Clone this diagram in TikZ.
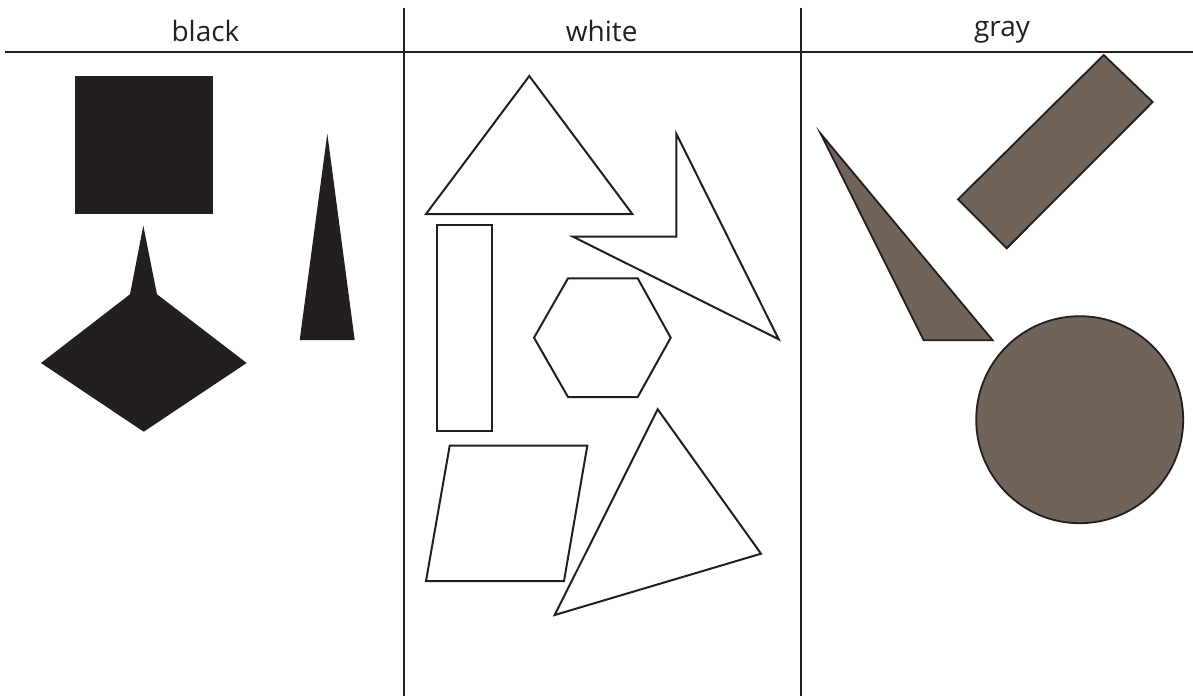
\documentclass[tikz,border=0pt]{standalone}
\usepackage{fontspec}
\setmainfont{Open Sans}
\usepackage{tikz}
\usetikzlibrary{positioning}
\usepackage{xcolor}
\definecolor{inkblack}{RGB}{35,31,32}
\definecolor{shapegray}{RGB}{111,99,90}

\begin{document}
\begin{tikzpicture}[x=1pt,y=-1pt,
  rule/.style={draw=inkblack,line width=2pt},
  blk/.style={fill=inkblack},
  wht/.style={draw=inkblack,line width=2pt,fill=white,line join=miter},
  gry/.style={draw=inkblack,line width=1.8pt,fill=shapegray},
  lbl/.style={font=\fontsize{28}{32}\selectfont,text=inkblack,anchor=base,inner sep=0pt},
]
\useasboundingbox (0,0) rectangle (1193,696);

\node[lbl] (lblblack) at (205.5,41.7) {black};
\node[lbl] (lblwhite) at (601.7,41.7) {white};
\node[lbl] (lblgray)  at (1002,36.7)  {gray};

% table rules
\coordinate (hl) at (5,51.7);
\coordinate (hr) at (1193,51.7);
\coordinate (v1t) at (404,7.5);
\coordinate (v1b) at (404,696);
\coordinate (v2t) at (801,7.5);
\coordinate (v2b) at (801,696);
\draw[rule,line width=2.2pt] (hl) -- (hr);
\draw[rule] (v1t) -- (v1b);
\draw[rule] (v2t) -- (v2b);

% black column
\fill[blk] (75,76) rectangle (213,214);
\fill[blk] (143.3,225.7) -- (157,294.3) -- (246.7,363) -- (143.7,431.7)
           -- (41,363) -- (130,294.3) -- cycle;
\fill[blk] (327.3,133.7) -- (354.7,340) -- (299.7,340) -- cycle;

% white column
\draw[wht] (529.3,76) -- (632.3,214) -- (426,214) -- cycle;
\draw[wht] (437.3,225) rectangle (492.3,431);
\draw[wht] (676.3,133.7) -- (778.7,339.3) -- (573,236.7) -- (676.3,236.7) -- cycle;
\draw[wht] (568,278.3) -- (637.7,278.3) -- (670.7,337.7) -- (637.7,397)
           -- (568,397) -- (534,337.7) -- cycle;
\draw[wht] (449.7,445.7) -- (587.3,445.7) -- (564,581) -- (426,581) -- cycle;
\draw[wht] (657.7,409.3) -- (761,553.7) -- (554.7,615) -- cycle;

% gray column
\draw[gry] (1103.7,55) -- (1152.7,102) -- (1006.7,248.3) -- (958,199.3) -- cycle;
\draw[gry] (820.7,133.7) -- (992.7,340.3) -- (923.7,340.3) -- cycle;
\draw[gry] (1079.7,419.7) circle (103.5);
\end{tikzpicture}
\end{document}
